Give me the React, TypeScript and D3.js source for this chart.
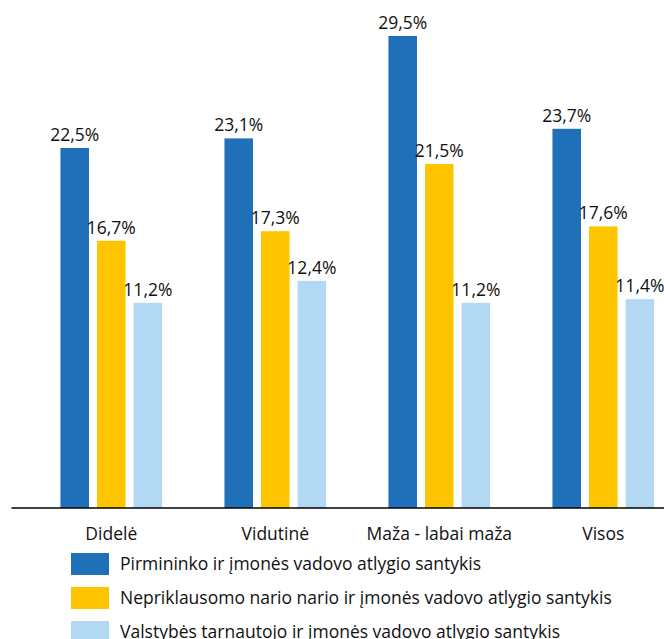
import React from "react";
import * as d3 from "d3";

const categories = ["Didelė", "Vidutinė", "Maža - labai maža", "Visos"];
const seriesNames = [
  "Pirmininko ir įmonės vadovo atlygio santykis",
  "Nepriklausomo nario nario ir įmonės vadovo atlygio santykis",
  "Valstybės tarnautojo ir įmonės vadovo atlygio santykis",
];
const chairValues = [22.5, 23.1, 29.5, 23.7];
const independentValues = [16.7, 17.3, 21.5, 17.6];
const civilValues = [11.2, 12.4, 11.2, 11.4];
const colors = ["#1F70B9", "#FFC400", "#B3D8F3"];

const W = 664;
const H = 639;
const baseline = 508;

export default function App() {
  const x0 = d3.scaleBand<string>().domain(categories).range([29.3, 685.3]).paddingInner(0.38).paddingOuter(0.19);
  const x1 = d3.scaleBand<number>().domain([0, 1, 2]).range([0, x0.bandwidth()]).paddingInner(0.22).paddingOuter(0);
  const yMain = d3.scaleLinear().domain([0, 30]).range([baseline, baseline - 480]);
  const ySecondary = d3.scaleLinear().domain([0, 26.2]).range([baseline, baseline - 480]);
  const series = [chairValues, independentValues, civilValues];
  const scales = [yMain, yMain, ySecondary];
  const fmt = (v: number) => v.toFixed(1).replace(".", ",") + "%";
  const font = "'Open Sans', 'Noto Sans', sans-serif";

  return (
    <svg width={W} height={H} style={{ position: "absolute", left: 0, top: 0 }} fontFamily={font}>
      <rect width={W} height={H} fill="#fff" />
      {categories.map((c, i) => (
        <g key={c} transform={`translate(${x0(c)},0)`}>
          {series.map((vals, s) => {
            const y = scales[s];
            const bx = x1(s)!;
            const top = y(vals[i]);
            return (
              <g key={s}>
                <rect x={bx} y={top} width={x1.bandwidth()} height={baseline - top} fill={colors[s]} />
                <text x={bx + x1.bandwidth() / 2} y={top - 7} textAnchor="middle" fontSize={17.5} fill="#111">
                  {fmt(vals[i])}
                </text>
              </g>
            );
          })}
          <text x={x0.bandwidth() / 2} y={540} textAnchor="middle" fontSize={17.5} fill="#111">
            {c}
          </text>
        </g>
      ))}
      <line x1={11.5} x2={W} y1={baseline} y2={baseline} stroke="#000" strokeWidth={1.5} />
      {seriesNames.map((n, i) => (
        <g key={n} transform={`translate(0,${553 + i * 34})`}>
          <rect x={71} y={0} width={38} height={22} fill={colors[i]} />
          <text x={120} y={17} fontSize={17.5} fill="#111">
            {n}
          </text>
        </g>
      ))}
    </svg>
  );
}
